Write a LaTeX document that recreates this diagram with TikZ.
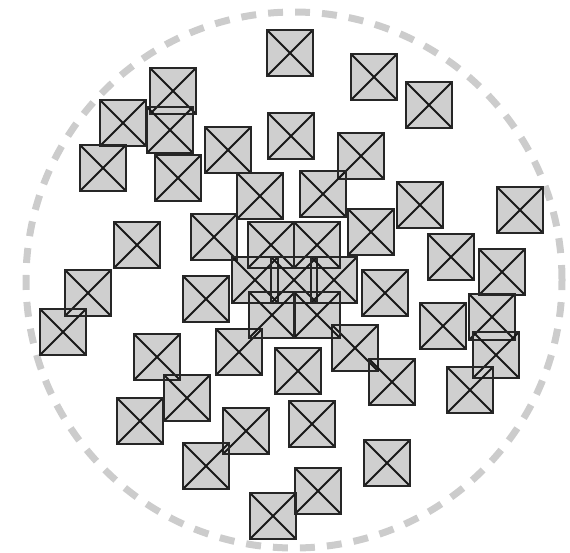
\documentclass[tikz,border=0pt]{standalone}
\begin{document}
\begin{tikzpicture}[x=1pt,y=-1pt,
  xbox/.style={draw=black!85,line width=1.8pt,minimum width=46pt,minimum height=46pt,inner sep=0pt,
    path picture={\draw[line width=1.9pt,black!90] (path picture bounding box.north west) -- (path picture bounding box.south east)
      (path picture bounding box.north east) -- (path picture bounding box.south west);}},
  ring/.style={draw=black!20,line width=7pt,dash pattern=on 15pt off 12pt}]
\useasboundingbox (0,0) rectangle (570,552);
\def\boxlist{290/53,374/77,429/105,173/91,123/123,170/130,103/168,178/178,228/150,291/136,361/156,260/196,323/194,420/205,520/210,137/245,214/237,371/232,451/257,502/272,88/293,63/332,206/299,385/293,443/326,492/317,496/355,157/357,239/352,355/348,298/371,392/382,470/390,187/398,140/421,246/431,312/424,206/466,387/463,318/491,273/516,271/245,317/245,255/280,294/280,334/280,272/315,317/315}
\node[ring,circle,minimum size=536pt,inner sep=0pt] (c) at (294,280) {};
\foreach \x/\y in \boxlist {\fill[black!19] (\x-23,\y-23) rectangle (\x+23,\y+23);}
\foreach \x/\y [count=\i] in \boxlist {\node[xbox] (b\i) at (\x,\y) {};}
\end{tikzpicture}
\end{document}
